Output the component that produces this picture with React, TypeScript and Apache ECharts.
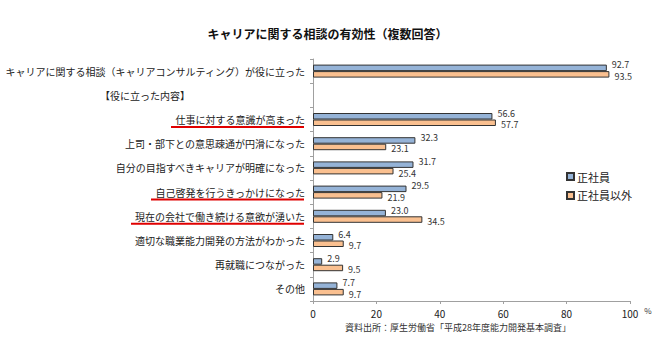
import React, { useEffect, useRef } from "react";
import * as echarts from "echarts";

const TITLE = "キャリアに関する相談の有効性（複数回答）";
const categories = [
  "キャリアに関する相談（キャリアコンサルティング）が役に立った",
  "【役に立った内容】",
  "仕事に対する意識が高まった",
  "上司・部下との意思疎通が円滑になった",
  "自分の目指すべきキャリアが明確になった",
  "自己啓発を行うきっかけになった",
  "現在の会社で働き続ける意欲が湧いた",
  "適切な職業能力開発の方法がわかった",
  "再就職につながった",
  "その他",
];
const seriesNames = ["正社員", "正社員以外"];
const regular = [92.7, null, 56.6, 32.3, 31.7, 29.5, 23.0, 6.4, 2.9, 7.7];
const nonRegular = [93.5, null, 57.7, 23.1, 25.4, 21.9, 34.5, 9.7, 9.5, 9.7];
const xTicks = [0, 20, 40, 60, 80, 100];
const underlined = [2, 5, 6];
const SOURCE = "資料出所：厚生労働省「平成28年度能力開発基本調査」";

const FONT = "'Noto Sans CJK JP', 'Noto Sans', sans-serif";

export default function App() {
  const ref = useRef<HTMLDivElement>(null);
  useEffect(() => {
    if (!ref.current) return;
    const chart = echarts.init(ref.current, null, { renderer: "svg" });
    const sourceText = {
      type: "text",
      left: 345,
      top: 323,
      style: { text: SOURCE, fontSize: 9, fill: "#333", fontFamily: FONT },
    };
    const option: any = {
      animation: false,
      backgroundColor: "#ffffff",
      textStyle: { fontFamily: FONT },
      title: {
        text: TITLE,
        left: "center",
        top: 22,
        textStyle: { fontSize: 12, fontWeight: "bold", color: "#111", fontFamily: FONT },
      },
      legend: {
        orient: "vertical",
        left: 561,
        top: 166,
        itemWidth: 7,
        itemHeight: 7,
        itemGap: 8,
        icon: "rect",
        textStyle: { fontSize: 11, color: "#222", fontFamily: FONT, padding: [0, 0, 0, -2] },
        data: seriesNames,
      },
      grid: { left: 313, right: 25, top: 59, bottom: 49 },
      xAxis: {
        type: "value",
        min: 0,
        max: 100,
        interval: 20,
        name: "%",
        nameLocation: "end",
        nameGap: 12,
        nameTextStyle: { fontSize: 8, color: "#333", verticalAlign: "top", padding: [6, 0, 0, 0] },
        axisLine: { show: true, lineStyle: { color: "#a0a0a0" } },
        axisTick: { show: true, length: 3, lineStyle: { color: "#a0a0a0" } },
        axisLabel: {
          fontSize: 10,
          color: "#222",
          margin: 7,
          formatter: (v: number) => (xTicks.includes(v) ? String(v) : ""),
        },
        splitLine: { show: false },
      },
      yAxis: {
        type: "category",
        inverse: true,
        data: categories,
        axisLine: { show: true, lineStyle: { color: "#a0a0a0" } },
        axisTick: { show: true, length: 3, lineStyle: { color: "#a0a0a0" } },
        axisLabel: {
          fontSize: 10,
          color: "#222",
          margin: 8,
          formatter: (v: string, i: number) => (i === 1 ? "{h|" + v + "}" : v),
          rich: { h: { fontSize: 10, color: "#222", padding: [0, 115, 0, 0] } },
        },
      },
      series: [
        {
          name: seriesNames[0],
          type: "bar",
          data: regular,
          barWidth: 6.5,
          barGap: "0%",
          barCategoryGap: "46%",
          itemStyle: { color: "#95B3D7", borderColor: "#333", borderWidth: 1 },
          label: {
            show: true,
            position: "right",
            distance: 5,
            offset: [0, -3],
            fontSize: 9,
            lineHeight: 9,
            color: "#333",
            formatter: (p: any) => Number(p.value).toFixed(1),
          },
        },
        {
          name: seriesNames[1],
          type: "bar",
          data: nonRegular,
          barWidth: 6.5,
          barGap: "0%",
          itemStyle: { color: "#FAC090", borderColor: "#333", borderWidth: 1 },
          label: {
            show: true,
            position: "right",
            distance: 5,
            offset: [0, 2],
            fontSize: 9,
            lineHeight: 9,
            color: "#333",
            formatter: (p: any) => Number(p.value).toFixed(1),
          },
        },
      ],
      graphic: [sourceText],
    };
    chart.setOption(option);

    // red underlines under highlighted category labels
    const canvas = document.createElement("canvas");
    const ctx = canvas.getContext("2d");
    if (ctx) ctx.font = "10px " + FONT;
    const lines = underlined.map((i) => {
      const y = chart.convertToPixel({ yAxisIndex: 0 }, categories[i]) as number;
      const w = ctx ? ctx.measureText(categories[i]).width : categories[i].length * 10;
      const right = 304;
      return {
        type: "line",
        shape: { x1: right - w - 3, y1: y + 7.5, x2: right, y2: y + 7.5 },
        style: { stroke: "#E00000", lineWidth: 2 },
        z: 10,
      };
    });
    chart.setOption({ graphic: [sourceText, ...lines] });
    return () => chart.dispose();
  }, []);
  return (
    <div
      ref={ref}
      style={{ position: "fixed", left: 0, top: 0, width: 655, height: 350 }}
    />
  );
}
